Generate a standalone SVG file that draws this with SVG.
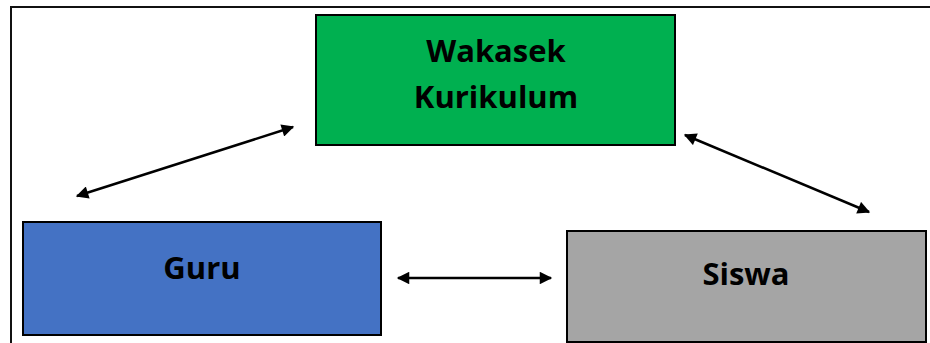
<svg xmlns="http://www.w3.org/2000/svg" width="930" height="343" viewBox="0 0 930 343">
<defs>
<style>
.box{stroke:#000;stroke-width:2}
.lbl{font-family:"Open Sans","Liberation Sans",sans-serif;font-weight:bold;font-size:31px;fill:#000;text-anchor:middle}
.conn{stroke:#000;stroke-width:2.5;fill:none;marker-start:url(#ah);marker-end:url(#ah)}
</style>
<marker id="ah" viewBox="0 0 10 10" refX="9" refY="5" markerWidth="6" markerHeight="5" markerUnits="strokeWidth" orient="auto-start-reverse">
<path d="M0,0 L10,5 L0,10 z" fill="#000"/>
</marker>
</defs>
<rect width="930" height="343" fill="#fff"/>
<path d="M11,343 V7 H930" fill="none" stroke="#111" stroke-width="2"/>
<g id="wakasek">
<rect class="box" x="316" y="15" width="359" height="130" fill="#00B050"/>
<text class="lbl" x="496" y="62">Wakasek</text>
<text class="lbl" x="496" y="108">Kurikulum</text>
</g>
<g id="guru">
<rect class="box" x="23" y="222" width="358" height="113" fill="#4472C4"/>
<text class="lbl" x="202" y="279">Guru</text>
</g>
<g id="siswa">
<rect class="box" x="567" y="231" width="359" height="111" fill="#A5A5A5"/>
<text class="lbl" x="746" y="285">Siswa</text>
</g>
<g id="connectors">
<line class="conn" x1="77" y1="196" x2="293" y2="127"/>
<line class="conn" x1="685" y1="135" x2="869" y2="212"/>
<line class="conn" x1="398" y1="278" x2="551" y2="278"/>
</g>
</svg>
